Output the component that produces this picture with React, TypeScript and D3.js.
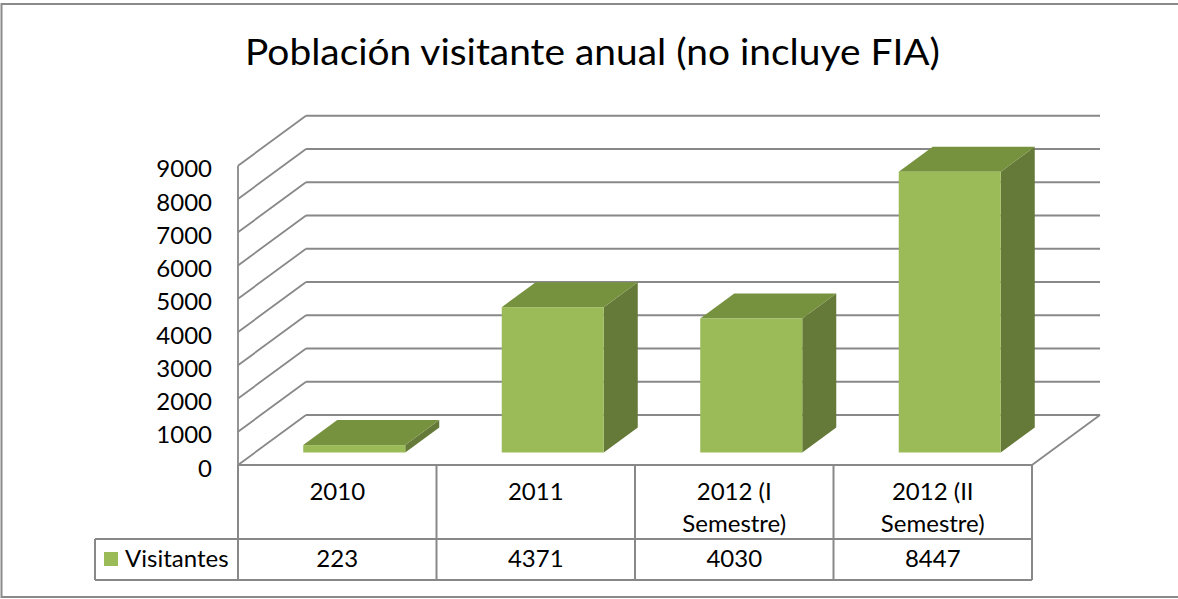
import React from "react";
import * as d3 from "d3";

const title = "Población visitante anual (no incluye FIA)";
const categories = ["2010", "2011", "2012 (I Semestre)", "2012 (II Semestre)"];
const categoryLines = [["2010"], ["2011"], ["2012 (I", "Semestre)"], ["2012 (II", "Semestre)"]];
const seriesName = "Visitantes";
const values = [223, 4371, 4030, 8447];
const yTicks = [0, 1000, 2000, 3000, 4000, 5000, 6000, 7000, 8000, 9000];

const W = 1178;
const H = 599;
const FONT = "Lato, 'Open Sans', sans-serif";
const GRID = "#888888";
const FRONT = "#9BBB59";
const TOP = "#77923F";
const SIDE = "#657938";

export default function App() {
  const x0 = 238;
  const x1 = 1032;
  const floorY = 465;
  const dx = 68;
  const dy = -50;

  const y = d3.scaleLinear().domain([0, 9000]).range([floorY, floorY - 299.25]);
  const band = d3
    .scaleBand<string>()
    .domain(categories)
    .range([x0, x1])
    .paddingInner(0.486)
    .paddingOuter(0.243);
  const col = d3.scaleBand<string>().domain(categories).range([x0, x1]);

  const bw = band.bandwidth();
  const bdx = dx * 0.5;
  const bdy = dy * 0.5;
  const offX = dx * 0.25;
  const offY = dy * 0.25;

  const tableTop = floorY;
  const rowSplit = 539;
  const tableBottom = 580;
  const legendLeft = 95;

  const pts = (p: [number, number][]) => p.map((q) => q.join(",")).join(" ");

  return (
    <svg width={W} height={H} style={{ display: "block", position: "absolute", left: 0, top: 0 }}>
      <rect x={0} y={0} width={W} height={H} fill="#ffffff" />
      <rect x={1.5} y={4} width={W + 10} height={593} fill="none" stroke="#8a8a8a" strokeWidth={2} />
      <text
        x={592.5}
        y={65}
        textAnchor="middle"
        fontFamily={FONT}
        fontSize={36}
        fill="#000"
        textLength={695}
        lengthAdjust="spacingAndGlyphs"
      >
        {title}
      </text>

      {/* walls & gridlines */}
      <g stroke={GRID} strokeWidth={1.8} fill="none">
        {yTicks.map((t) => (
          <g key={t}>
            <line x1={x0} y1={y(t)} x2={x0 + dx} y2={y(t) + dy} />
            <line x1={x0 + dx} y1={y(t) + dy} x2={x1 + dx} y2={y(t) + dy} />
          </g>
        ))}
        <line x1={x0} y1={y(0)} x2={x0} y2={y(9000)} />
        <line x1={x1} y1={floorY} x2={x1 + dx} y2={floorY + dy} />
      </g>

      {/* y labels */}
      {yTicks.map((t) => (
        <text key={t} x={212} y={y(t) + 11.5} textAnchor="end" fontFamily={FONT} fontSize={24} fill="#000">
          {t}
        </text>
      ))}

      {/* bars */}
      {categories.map((c, i) => {
        const bx = (band(c) as number) + offX;
        const yb = floorY + offY;
        const yt = y(values[i]) + offY;
        return (
          <g key={c}>
            <polygon points={pts([[bx + bw, yt], [bx + bw + bdx, yt + bdy], [bx + bw + bdx, yb + bdy], [bx + bw, yb]])} fill={SIDE} />
            <polygon points={pts([[bx, yt], [bx + bw, yt], [bx + bw + bdx, yt + bdy], [bx + bdx, yt + bdy]])} fill={TOP} />
            <rect x={bx} y={yt} width={bw} height={yb - yt} fill={FRONT} />
          </g>
        );
      })}

      {/* data table */}
      <g stroke={GRID} strokeWidth={2} fill="none">
        <line x1={x0} y1={tableTop} x2={x1} y2={tableTop} />
        <line x1={legendLeft} y1={rowSplit} x2={x1} y2={rowSplit} />
        <line x1={legendLeft} y1={tableBottom} x2={x1} y2={tableBottom} />
        <line x1={legendLeft} y1={rowSplit} x2={legendLeft} y2={tableBottom} />
        <line x1={x0} y1={tableTop} x2={x0} y2={tableBottom} />
        {categories.map((c) => {
          const xr = (col(c) as number) + col.bandwidth();
          return <line key={c} x1={xr} y1={tableTop} x2={xr} y2={tableBottom} />;
        })}
      </g>
      {categories.map((c, i) => {
        const cx = (col(c) as number) + col.bandwidth() / 2;
        return (
          <g key={c} fontFamily={FONT} fontSize={24} fill="#000" textAnchor="middle">
            {categoryLines[i].map((ln, j) => (
              <text key={j} x={cx} y={500 + j * 32}>
                {ln}
              </text>
            ))}
            <text x={cx} y={567}>
              {values[i]}
            </text>
          </g>
        );
      })}
      <rect x={104} y={552} width={14} height={14} fill={FRONT} />
      <text x={125} y={567} fontFamily={FONT} fontSize={24} fill="#000">
        {seriesName}
      </text>
    </svg>
  );
}
